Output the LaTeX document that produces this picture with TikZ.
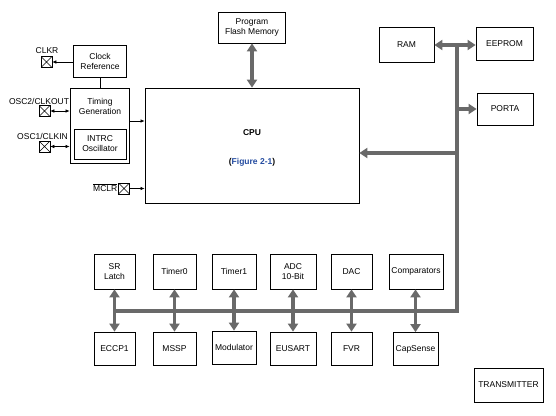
\documentclass[tikz,border=0pt]{standalone}
\usepackage{fontspec}
\setmainfont{Liberation Sans}
\usetikzlibrary{arrows.meta,calc}
\definecolor{busgray}{RGB}{105,105,105}
\definecolor{linkblue}{RGB}{35,75,160}
\tikzset{
  blk/.style={draw=black, line width=0.8pt, inner sep=0pt, align=center, font=\fontsize{8.5}{10}\selectfont},
  xbox/.style={draw=black, line width=0.6pt, minimum size=11pt, inner sep=0pt,
    path picture={\draw[line width=0.5pt] (path picture bounding box.south west) -- (path picture bounding box.north east)
      (path picture bounding box.north west) -- (path picture bounding box.south east);}},
  lbl/.style={font=\fontsize{8.5}{10}\selectfont, inner sep=0pt},
  bus/.style={draw=busgray, line width=3.6pt},
  busarrow/.style={draw=busgray, line width=3.6pt, -{Triangle[width=10pt,length=8pt]}},
  busdarrow/.style={draw=busgray, line width=3.6pt, {Triangle[width=10pt,length=8pt]}-{Triangle[width=10pt,length=8pt]}},
  thin/.style={draw=black, line width=0.6pt, -{Latex[length=4pt,width=3.5pt]}},
  thind/.style={draw=black, line width=0.6pt, {Latex[length=4pt,width=3.5pt]}-{Latex[length=4pt,width=3.5pt]}}
}
\begin{document}
\begin{tikzpicture}[x=1pt,y=-1pt]
\useasboundingbox (0,0) rectangle (556,415);

% clock section
\node[blk, minimum width=53pt, minimum height=32pt] (clkref) at (100,61) {Clock\\Reference};
\node[blk, minimum width=59pt, minimum height=75pt] (timing) at (99.5,125.5) {};
\node[lbl, align=center] (timtxt) at (100,106.5) {Timing\\Generation};
\node[blk, minimum width=52pt, minimum height=30pt] (intrc) at (100,144) {INTRC\\Oscillator};
\draw[black, line width=0.8pt] (clkref.south) -- (clkref.south |- timing.north);

\node[xbox] (clkrx) at (46.5,62) {};
\node[lbl] (clkrl) at (47,51) {CLKR};
\draw[thin] (clkref.west |- clkrx.east) -- (clkrx.east);

\node[xbox] (osc2x) at (44.5,111) {};
\node[lbl] (osc2l) at (39,101.5) {OSC2/CLKOUT};
\draw[thind] (osc2x.east) -- (osc2x.east -| timing.west);

\node[xbox] (osc1x) at (44.5,146.5) {};
\node[lbl] (osc1l) at (42.5,136.5) {OSC1/CLKIN};
\draw[thind] (osc1x.east) -- (osc1x.east -| timing.west);

% CPU
\node[blk, minimum width=214pt, minimum height=115pt] (cpu) at (252,145.5) {};
\node[lbl, font=\fontsize{8.5}{10}\selectfont\bfseries] (cputxt) at (252,133) {CPU};
\node[lbl, font=\fontsize{8.5}{10}\selectfont\bfseries] (figtxt) at (252,162) {(\textcolor{linkblue}{Figure 2-1})};

\draw[thin] ([yshift=4.5pt]timing.east) -- ([yshift=4.5pt]timing.east -| cpu.west);

\node[xbox] (mclrx) at (124,188.5) {};
\node[lbl, anchor=east] (mclrl) at (117.5,187.5) {$\overline{\mbox{MCLR}}$};
\draw[thin] (mclrx.east) -- (mclrx.east -| cpu.west);

% flash
\node[blk, minimum width=67pt, minimum height=31pt] (flash) at (252,27.5) {Program\\Flash Memory};
\draw[busdarrow] (flash.south) -- (cpu.north);

% memory / ports
\node[blk, minimum width=55pt, minimum height=35pt] (ram) at (406.5,44.5) {RAM};
\node[blk, minimum width=57pt, minimum height=33pt] (eeprom) at (504.5,43.5) {EEPROM};
\node[blk, minimum width=56pt, minimum height=32pt] (porta) at (505,109) {PORTA};

\coordinate (bustop) at (457,45);
\coordinate (busporta) at (457,109);
\coordinate (buscpu) at (457,153);
\coordinate (buscorner) at (457,311);
\coordinate (busleft) at (115,311);

\draw[bus] (busleft) -- (buscorner) -- ([yshift=1.8pt]bustop);
\draw[busarrow] (bustop) -- (bustop -| ram.east);
\draw[busarrow] (bustop) -- (bustop -| eeprom.west);
\draw[busarrow] (busporta) -- (porta.west);
\draw[busarrow] (buscpu) -- (buscpu -| cpu.east);

% peripherals
\node[blk, minimum width=41pt, minimum height=35pt] (sr) at (114.5,271.5) {SR\\Latch};
\node[blk, minimum width=43pt, minimum height=35pt] (timer0) at (174.5,271.5) {Timer0};
\node[blk, minimum width=44pt, minimum height=35pt] (timer1) at (234,271.5) {Timer1};
\node[blk, minimum width=46pt, minimum height=35pt] (adc) at (293,271.5) {ADC\\10-Bit};
\node[blk, minimum width=41pt, minimum height=35pt] (dac) at (351.5,271.5) {DAC};
\node[blk, minimum width=54pt, minimum height=35pt] (comp) at (416,271.5) {Comparators};

\node[blk, minimum width=41pt, minimum height=33pt] (eccp) at (114.5,348.5) {ECCP1};
\node[blk, minimum width=43pt, minimum height=33pt] (mssp) at (174.5,348.5) {MSSP};
\node[blk, minimum width=44pt, minimum height=33pt] (modul) at (234,347.5) {Modulator};
\node[blk, minimum width=46pt, minimum height=33pt] (eusart) at (293,348.5) {EUSART};
\node[blk, minimum width=41pt, minimum height=33pt] (fvr) at (351.5,348.5) {FVR};
\node[blk, minimum width=45pt, minimum height=33pt] (capsense) at (415.5,349) {CapSense};

\draw[busdarrow] (sr.south) -- (eccp.north);
\draw[busdarrow] (timer0.south) -- (mssp.north);
\draw[busdarrow] (timer1.south) -- (modul.north);
\draw[busdarrow] (adc.south) -- (eusart.north);
\draw[busdarrow] (dac.south) -- (fvr.north);
\draw[busdarrow] (comp.south -| capsense.north) -- (capsense.north);

\node[blk, minimum width=69pt, minimum height=34pt] (tx) at (508.5,385) {TRANSMITTER};
\end{tikzpicture}
\end{document}
